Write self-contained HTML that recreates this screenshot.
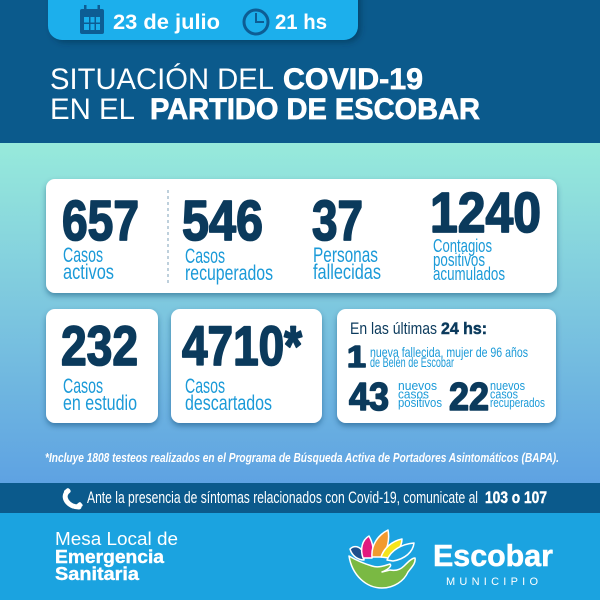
<!DOCTYPE html>
<html><head><meta charset="utf-8"><style>
html,body{margin:0;padding:0;width:600px;height:600px;overflow:hidden;background:#0b5a8c}
svg{display:block}
text{font-family:"Liberation Sans",Arial,sans-serif}
</style></head><body>
<svg width="600" height="600" viewBox="0 0 600 600" xmlns="http://www.w3.org/2000/svg">
<defs>
<linearGradient id="g1" x1="0" y1="0" x2="0" y2="1">
<stop offset="0" stop-color="#97eadb"/>
<stop offset="0.5" stop-color="#7cc6df"/>
<stop offset="1" stop-color="#5ea2e2"/>
</linearGradient>
<filter id="sh" x="-10%" y="-10%" width="120%" height="130%">
<feDropShadow dx="0" dy="3" stdDeviation="3" flood-color="#0a3a66" flood-opacity="0.45"/>
</filter>
<filter id="sh2" x="-10%" y="-20%" width="125%" height="160%">
<feDropShadow dx="3" dy="3" stdDeviation="3" flood-color="#04304f" flood-opacity="0.5"/>
</filter>
</defs>

<!-- backgrounds -->
<rect x="0" y="0" width="600" height="143" fill="#0b5a8c"/>
<rect x="0" y="143" width="600" height="340" fill="url(#g1)"/>
<rect x="0" y="483" width="600" height="30" fill="#0b5a8c"/>
<rect x="0" y="513" width="600" height="87" fill="#1ba3e0"/>

<!-- date pill -->
<rect x="48" y="-20" width="310" height="60" rx="14" fill="#1aafec" filter="url(#sh2)"/>
<rect x="80" y="9" width="24" height="25" rx="2" fill="#0d5d94"/>
<rect x="84" y="17" width="16" height="13" fill="#1aafec"/>
<g fill="#0d5d94">
<rect x="89" y="17" width="1.5" height="13"/><rect x="94.5" y="17" width="1.5" height="13"/>
<rect x="84" y="22.5" width="16" height="1.5"/>
</g>
<rect x="84" y="5" width="2.5" height="7" fill="#0d5d94"/>
<rect x="97.5" y="5" width="2.5" height="7" fill="#0d5d94"/>
<text x="113" y="29" font-size="21" font-weight="bold" fill="#fff" textLength="107" lengthAdjust="spacingAndGlyphs">23 de julio</text>
<circle cx="256" cy="22" r="12" fill="none" stroke="#0d5d94" stroke-width="3"/>
<path d="M256,13 L256,22 L264,22" fill="none" stroke="#0d5d94" stroke-width="2"/>
<text x="275" y="29" font-size="21" font-weight="bold" fill="#fff" textLength="52" lengthAdjust="spacingAndGlyphs">21 hs</text>

<!-- title -->
<text x="50" y="89" font-size="30" fill="#fff" textLength="224" lengthAdjust="spacingAndGlyphs">SITUACIÓN DEL</text>
<text x="283" y="89" font-size="30" font-weight="bold" fill="#fff" stroke="#fff" stroke-width="0.7" textLength="140" lengthAdjust="spacingAndGlyphs">COVID-19</text>
<text x="50" y="119" font-size="30" fill="#fff" textLength="85" lengthAdjust="spacingAndGlyphs">EN EL</text>
<text x="150" y="119" font-size="30" font-weight="bold" fill="#fff" stroke="#fff" stroke-width="0.7" textLength="330" lengthAdjust="spacingAndGlyphs">PARTIDO DE ESCOBAR</text>

<!-- cards -->
<rect x="46" y="179" width="511" height="114" rx="9" fill="#fff" filter="url(#sh)"/>
<rect x="46" y="309" width="112" height="114" rx="9" fill="#fff" filter="url(#sh)"/>
<rect x="171" y="309" width="151" height="114" rx="9" fill="#fff" filter="url(#sh)"/>
<rect x="337" y="309" width="219" height="114" rx="9" fill="#fff" filter="url(#sh)"/>

<line x1="168" y1="190" x2="168" y2="284" stroke="#a9c0d0" stroke-width="1.5" stroke-dasharray="3,3"/>

<g font-weight="bold" fill="#0b3a5c" stroke="#0b3a5c" stroke-width="1.8" stroke-linejoin="round" font-size="57">
<text x="62" y="240" textLength="77" lengthAdjust="spacingAndGlyphs">657</text>
<text x="182" y="240" textLength="81" lengthAdjust="spacingAndGlyphs">546</text>
<text x="312" y="240" textLength="51" lengthAdjust="spacingAndGlyphs">37</text>
<text x="430" y="232" textLength="111" lengthAdjust="spacingAndGlyphs">1240</text>
<text x="61" y="365" font-size="56" textLength="77" lengthAdjust="spacingAndGlyphs">232</text>
<text x="182" y="365" font-size="56" textLength="120" lengthAdjust="spacingAndGlyphs">4710*</text>
</g>

<g fill="#1b9ad8" font-size="21.5">
<text x="63" y="262" textLength="40" lengthAdjust="spacingAndGlyphs">Casos</text>
<text x="63" y="279" textLength="51" lengthAdjust="spacingAndGlyphs">activos</text>
<text x="185" y="263" textLength="40" lengthAdjust="spacingAndGlyphs">Casos</text>
<text x="185" y="280" textLength="88" lengthAdjust="spacingAndGlyphs">recuperados</text>
<text x="313" y="262" textLength="65" lengthAdjust="spacingAndGlyphs">Personas</text>
<text x="313" y="279" textLength="68" lengthAdjust="spacingAndGlyphs">fallecidas</text>
<text x="433" y="252" font-size="18" textLength="59" lengthAdjust="spacingAndGlyphs">Contagios</text>
<text x="433" y="266" font-size="18" textLength="52" lengthAdjust="spacingAndGlyphs">positivos</text>
<text x="433" y="280" font-size="18" textLength="72" lengthAdjust="spacingAndGlyphs">acumulados</text>
<text x="63" y="393" textLength="40" lengthAdjust="spacingAndGlyphs">Casos</text>
<text x="63" y="410" textLength="74" lengthAdjust="spacingAndGlyphs">en estudio</text>
<text x="185" y="393" textLength="40" lengthAdjust="spacingAndGlyphs">Casos</text>
<text x="185" y="410" textLength="87" lengthAdjust="spacingAndGlyphs">descartados</text>
</g>

<!-- card 4 -->
<text x="350" y="334" font-size="17" fill="#0b3a5c" textLength="87" lengthAdjust="spacingAndGlyphs">En las últimas</text>
<text x="441" y="334" font-size="17" font-weight="bold" fill="#0b3a5c" stroke="#0b3a5c" stroke-width="0.5" textLength="46" lengthAdjust="spacingAndGlyphs">24 hs:</text>
<g font-weight="bold" fill="#0b3a5c" stroke="#0b3a5c" stroke-width="1.6" stroke-linejoin="round">
<text x="347" y="367" font-size="31" textLength="19" lengthAdjust="spacingAndGlyphs">1</text>
<text x="349" y="410" font-size="39" textLength="40" lengthAdjust="spacingAndGlyphs">43</text>
<text x="449" y="410" font-size="39" textLength="40" lengthAdjust="spacingAndGlyphs">22</text>
</g>
<g fill="#1b9ad8">
<text x="370" y="357" font-size="14" textLength="158" lengthAdjust="spacingAndGlyphs">nueva fallecida, mujer de 96 años</text>
<text x="370" y="367" font-size="14" textLength="84" lengthAdjust="spacingAndGlyphs">de Belén de Escobar</text>
<text x="398" y="390" font-size="13" textLength="39" lengthAdjust="spacingAndGlyphs">nuevos</text>
<text x="398" y="398.5" font-size="13" textLength="31" lengthAdjust="spacingAndGlyphs">casos</text>
<text x="398" y="407" font-size="13" textLength="44" lengthAdjust="spacingAndGlyphs">positivos</text>
<text x="490" y="390" font-size="13" textLength="35" lengthAdjust="spacingAndGlyphs">nuevos</text>
<text x="490" y="398.5" font-size="13" textLength="28" lengthAdjust="spacingAndGlyphs">casos</text>
<text x="490" y="407" font-size="13" textLength="55" lengthAdjust="spacingAndGlyphs">recuperados</text>
</g>

<!-- footnote -->
<text x="45" y="462" font-size="12.5" font-weight="bold" font-style="italic" fill="#fff" textLength="514" lengthAdjust="spacingAndGlyphs">*Incluye 1808 testeos realizados en el Programa de Búsqueda Activa de Portadores Asintomáticos (BAPA).</text>

<!-- band -->
<path d="M68,491 C61,497 68,507 79,507" fill="none" stroke="#fff" stroke-width="5" stroke-linecap="round"/>
<rect x="64" y="489" width="6" height="5" rx="1.5" fill="#fff" transform="rotate(-40 67 491)"/>
<rect x="76" y="503" width="6" height="5" rx="1.5" fill="#fff" transform="rotate(-40 79 505)"/>
<text x="87" y="503" font-size="17" fill="#fff" textLength="391" lengthAdjust="spacingAndGlyphs">Ante la presencia de síntomas relacionados con Covid-19, comunicate al</text>
<text x="485" y="503" font-size="17" font-weight="bold" fill="#fff" stroke="#fff" stroke-width="0.4" textLength="62" lengthAdjust="spacingAndGlyphs">103 o 107</text>

<!-- bottom -->
<text x="55" y="545" font-size="18.5" fill="#fff" textLength="123" lengthAdjust="spacingAndGlyphs">Mesa Local de</text>
<text x="55" y="563" font-size="18.5" font-weight="bold" fill="#fff" stroke="#fff" stroke-width="0.4" textLength="109" lengthAdjust="spacingAndGlyphs">Emergencia</text>
<text x="55" y="580" font-size="18.5" font-weight="bold" fill="#fff" stroke="#fff" stroke-width="0.4" textLength="84" lengthAdjust="spacingAndGlyphs">Sanitaria</text>

<!-- logo -->
<g stroke="#fff" stroke-width="1.5" stroke-linejoin="round">
<path d="M350,549 C354,545 360,546 363,552 L364,560 C358,560 352,556 350,549 Z" fill="#1d4f8c"/>
<path d="M363,558 C360,549 362,540 369,536 C373,543 374,551 372,558 Z" fill="#e2187f"/>
<path d="M372,557 C371,545 378,535 388,530 C390,540 387,550 382,557 Z" fill="#f29a2e"/>
<path d="M381,557 C384,548 392,541 402,539 C402,547 396,554 389,558 Z" fill="#f5e51c"/>
<path d="M387,560 C391,550 402,544 414,543 C413,552 405,559 393,561 Z" fill="#1ba3e0"/>
<path d="M349,556 C352,575 366,588 382,588 C394,588 404,581 408,572 C412,567 416,563 415,558 C412,558 408,562 404,566 C400,570 395,571 390,570 L382,572 C389,569 392,566 390,564 C384,566 378,568 372,566 C362,563 354,559 349,556 Z" fill="#7ab943"/>
</g>
<text x="433" y="566" font-size="31" font-weight="bold" fill="#fff" stroke="#fff" stroke-width="0.5" textLength="120" lengthAdjust="spacingAndGlyphs">Escobar</text>
<text x="446" y="585" font-size="11" fill="#fff" textLength="92" lengthAdjust="spacing">MUNICIPIO</text>
</svg>
</body></html>
